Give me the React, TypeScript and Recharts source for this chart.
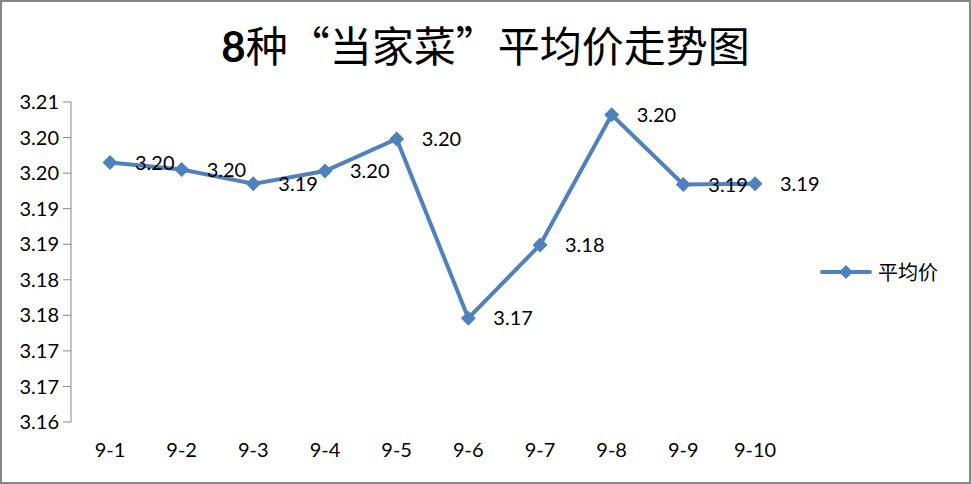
import { LineChart, Line, XAxis, YAxis, Legend, LabelList } from 'recharts'

// 日期
const dates = ['9-1', '9-2', '9-3', '9-4', '9-5', '9-6', '9-7', '9-8', '9-9', '9-10']
// 平均价
const avgPrice = [3.1965, 3.1955, 3.1935, 3.1953, 3.1998, 3.1746, 3.1849, 3.2032, 3.1934, 3.1935]
// Y 轴刻度 (Excel 标签两位小数)
const yTicks = [3.16, 3.165, 3.17, 3.175, 3.18, 3.185, 3.19, 3.195, 3.2, 3.205]
const yTickLabels = ['3.16', '3.17', '3.17', '3.18', '3.18', '3.19', '3.19', '3.20', '3.20', '3.21']
// X 轴分隔刻度
const bounds = [0, 1, 2, 3, 4, 5, 6, 7, 8, 9, 10]

const data = dates.map((d, i) => ({ date: d, price: avgPrice[i] }))

const BLUE = '#4F81BD'
const AXIS = '#868686'
const FONT = 'Lato, "Noto Sans", sans-serif'
const CJK = '"Noto Sans CJK SC", sans-serif'

const Diamond = (props: any) => {
  const { cx, cy } = props
  if (cx == null || cy == null) return null
  const r = 7.5
  return <path d={`M${cx} ${cy - r}L${cx + r} ${cy}L${cx} ${cy + r}L${cx - r} ${cy}Z`} fill={BLUE} />
}

const LegendContent = ({ payload }: any) => (
  <div style={{ display: 'flex', alignItems: 'center' }}>
    {(payload ?? []).map((p: any) => (
      <div key={p.value} style={{ display: 'flex', alignItems: 'center' }}>
        <svg width={52} height={16}>
          <line x1={2} y1={8} x2={50} y2={8} stroke={BLUE} strokeWidth={4} strokeLinecap="round" />
          <path d="M26 1L33 8L26 15L19 8Z" fill={BLUE} />
        </svg>
        <span style={{ marginLeft: 6, fontSize: 20, fontFamily: CJK, color: '#000' }}>{p.value}</span>
      </div>
    ))}
  </div>
)

export default function App() {
  return (
    <div style={{ position: 'fixed', left: 0, top: 0, width: 971, height: 484, background: '#fff' }}>
      <div style={{ position: 'absolute', left: 0, top: 0, width: 971, height: 484, boxSizing: 'border-box', border: `2px solid ${AXIS}` }} />
      <div style={{ position: 'absolute', left: 0, top: 17, width: 971, textAlign: 'center', fontSize: 42, lineHeight: '54px', fontFamily: CJK, color: '#000' }}>
        <span style={{ fontWeight: 'bold', fontFamily: 'Lato, sans-serif' }}>8</span>种“当家菜”平均价走势图
      </div>
      <div style={{ position: 'absolute', left: 0, top: 0 }}>
        <LineChart width={971} height={484} data={data} margin={{ top: 102, right: 180, left: 0, bottom: 22 }}>
          <XAxis
            xAxisId="bounds"
            type="number"
            domain={[0, 10]}
            ticks={bounds}
            height={0}
            tickSize={8}
            tickFormatter={() => ''}
            stroke={AXIS}
            allowDataOverflow
          />
          <XAxis
            xAxisId="cat"
            dataKey="date"
            height={40}
            padding={{ left: 39, right: 36 }}
            axisLine={false}
            tickLine={false}
            tickSize={0}
            tickMargin={21}
            interval={0}
            tick={{ fontSize: 20, fontFamily: FONT, fill: '#000' }}
          />
          <YAxis
            width={71}
            domain={[3.16, 3.205]}
            ticks={yTicks}
            interval={0}
            tickSize={8}
            tickMargin={4}
            stroke={AXIS}
            tickFormatter={(_v: number, i: number) => yTickLabels[i]}
            tick={{ fontSize: 20, fontFamily: FONT, fill: '#000' }}
          />
          <Legend
            layout="vertical"
            align="center"
            verticalAlign="middle"
            wrapperStyle={{ left: 820, top: 257, width: 'auto' }}
            content={<LegendContent />}
          />
          <Line
            xAxisId="cat"
            dataKey="price"
            name="平均价"
            stroke={BLUE}
            strokeWidth={4}
            dot={<Diamond />}
            activeDot={false}
            isAnimationActive={false}
          >
            <LabelList
              dataKey="price"
              position="right"
              offset={25}
              formatter={(v: any) => Number(v).toFixed(2)}
              style={{ fontSize: 20, fontFamily: FONT, fill: '#000' }}
            />
          </Line>
        </LineChart>
      </div>
    </div>
  )
}
